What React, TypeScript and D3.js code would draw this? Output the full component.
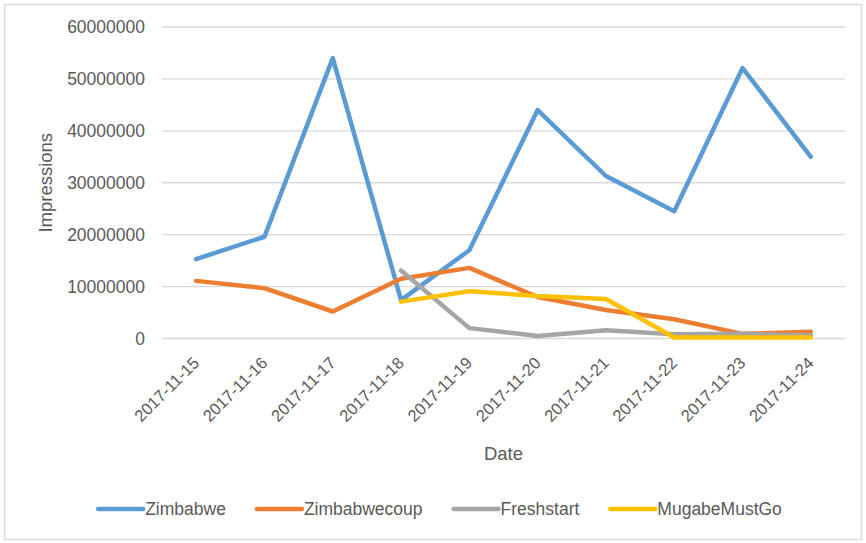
import React, { useEffect, useRef } from 'react';
import * as d3 from 'd3';

const dates = [
  '2017-11-15', '2017-11-16', '2017-11-17', '2017-11-18', '2017-11-19',
  '2017-11-20', '2017-11-21', '2017-11-22', '2017-11-23', '2017-11-24',
];
const zimbabwe = [15300000, 19600000, 54000000, 7400000, 17000000, 44000000, 31300000, 24500000, 52100000, 35000000];
const zimbabwecoup = [11100000, 9700000, 5200000, 11500000, 13600000, 8000000, 5500000, 3700000, 900000, 1300000];
const freshstart = [null, null, null, 13100000, 2000000, 500000, 1600000, 800000, 900000, 600000];
const mugabeMustGo = [null, null, null, 7100000, 9100000, 8200000, 7600000, 200000, 200000, 200000];
const yTicks = [0, 10000000, 20000000, 30000000, 40000000, 50000000, 60000000];

const seriesNames = ['Zimbabwe', 'Zimbabwecoup', 'Freshstart', 'MugabeMustGo'];
const seriesValues = [zimbabwe, zimbabwecoup, freshstart, mugabeMustGo];
const colors = ['#5B9BD5', '#ED7D31', '#A5A5A5', '#FFC000'];

const W = 866;
const H = 543;
const FONT = '"Liberation Sans", Arial, sans-serif';
const TEXT = '#595959';

const App: React.FC = () => {
  const svgRef = useRef<SVGSVGElement | null>(null);

  useEffect(() => {
    if (!svgRef.current) return;
    const svg = d3.select(svgRef.current);
    svg.selectAll('*').remove();

    const plot = { left: 162, right: 845, top: 27, bottom: 338.5 };

    const x = d3.scaleBand<string>().domain(dates).range([plot.left, plot.right]);
    const y = d3.scaleLinear().domain([0, 60000000]).range([plot.bottom, plot.top]);
    const cx = (d: string) => (x(d) as number) + x.bandwidth() / 2;

    // chart border
    svg
      .append('rect')
      .attr('x', 4.5)
      .attr('y', 4.5)
      .attr('width', W - 9)
      .attr('height', H - 8)
      .attr('fill', '#fff')
      .attr('stroke', '#D9D9D9')
      .attr('stroke-width', 1.5);

    // gridlines
    svg
      .selectAll('.grid')
      .data(yTicks)
      .enter()
      .append('line')
      .attr('x1', plot.left)
      .attr('x2', plot.right)
      .attr('y1', (d) => y(d))
      .attr('y2', (d) => y(d))
      .attr('stroke', '#D9D9D9')
      .attr('stroke-width', 1.3);

    // y tick labels
    svg
      .selectAll('.ytick')
      .data(yTicks)
      .enter()
      .append('text')
      .attr('x', 145)
      .attr('y', (d) => y(d))
      .attr('dy', '0.36em')
      .attr('text-anchor', 'end')
      .attr('font-family', FONT)
      .attr('font-size', 17.5)
      .attr('fill', TEXT)
      .text((d) => String(d));

    // x tick labels
    svg
      .selectAll('.xtick')
      .data(dates)
      .enter()
      .append('text')
      .attr('transform', (d) => `translate(${cx(d) + 4},${364}) rotate(-45)`)
      .attr('text-anchor', 'end')
      .attr('font-family', FONT)
      .attr('font-size', 16.5)
      .attr('fill', TEXT)
      .text((d) => d);

    // axis titles
    svg
      .append('text')
      .attr('transform', `translate(52,${(plot.top + plot.bottom) / 2}) rotate(-90)`)
      .attr('text-anchor', 'middle')
      .attr('font-family', FONT)
      .attr('font-size', 18.5)
      .attr('fill', TEXT)
      .text('Impressions');

    svg
      .append('text')
      .attr('x', (plot.left + plot.right) / 2)
      .attr('y', 460)
      .attr('text-anchor', 'middle')
      .attr('font-family', FONT)
      .attr('font-size', 18.5)
      .attr('fill', TEXT)
      .text('Date');

    // lines
    const line = d3
      .line<number | null>()
      .defined((d) => d !== null)
      .x((_d, i) => cx(dates[i]))
      .y((d) => y(d as number));

    seriesValues.forEach((vals, i) => {
      svg
        .append('path')
        .datum(vals)
        .attr('fill', 'none')
        .attr('stroke', colors[i])
        .attr('stroke-width', 4.5)
        .attr('stroke-linejoin', 'round')
        .attr('stroke-linecap', 'round')
        .attr('d', line as any);
    });

    // legend
    const legend = svg.append('g');
    const ly = 509;
    let pos = 0;
    const items: { g: any; w: number }[] = [];
    seriesNames.forEach((name, i) => {
      const g = legend.append('g');
      g.append('line')
        .attr('x1', 0)
        .attr('x2', 45)
        .attr('y1', ly)
        .attr('y2', ly)
        .attr('stroke', colors[i])
        .attr('stroke-width', 4.5)
        .attr('stroke-linecap', 'round');
      const t = g
        .append('text')
        .attr('x', 47)
        .attr('y', ly)
        .attr('dy', '0.36em')
        .attr('font-family', FONT)
        .attr('font-size', 17.5)
        .attr('fill', TEXT)
        .text(name);
      const tw = (t.node() as SVGTextElement).getComputedTextLength();
      items.push({ g, w: 47 + tw });
    });
    const gap = 31;
    const total = d3.sum(items, (d) => d.w) + gap * (items.length - 1);
    pos = 440 - total / 2;
    items.forEach((it) => {
      it.g.attr('transform', `translate(${pos},0)`);
      pos += it.w + gap;
    });
  }, []);

  return (
    <svg
      ref={svgRef}
      width={W}
      height={H}
      viewBox={`0 0 ${W} ${H}`}
      style={{ position: 'absolute', left: 0, top: 0, background: '#fff' }}
    ></svg>
  );
};

export default App;
